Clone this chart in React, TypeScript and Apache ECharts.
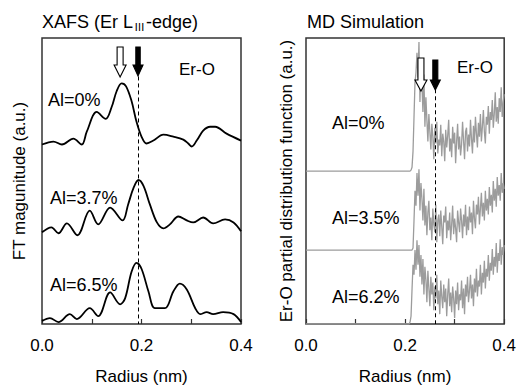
import React, { useEffect, useRef } from "react";
import * as echarts from "echarts";

// ---- XAFS Fourier-transform magnitudes (radius nm, a.u. incl. vertical offset) ----
const xafsAl0 = [
  [0.0, 182], [0.023, 185], [0.04, 182], [0.063, 188], [0.08, 182], [0.09, 195],
  [0.11, 215], [0.128, 208], [0.14, 220], [0.15, 236], [0.16, 244], [0.169, 241],
  [0.18, 226], [0.19, 205], [0.2, 190], [0.21, 183], [0.224, 186], [0.244, 192],
  [0.264, 190], [0.284, 187], [0.294, 183], [0.301, 180], [0.311, 186], [0.324, 196],
  [0.338, 200], [0.348, 200], [0.371, 193], [0.4, 186],
];
const xafsAl37 = [
  [0.0, 93], [0.019, 98], [0.033, 92], [0.05, 102], [0.071, 90], [0.096, 115],
  [0.113, 101], [0.137, 118], [0.162, 105], [0.173, 121], [0.184, 138], [0.194, 146],
  [0.204, 140], [0.217, 121], [0.231, 103], [0.244, 97], [0.257, 101], [0.274, 109],
  [0.291, 105], [0.304, 103], [0.324, 108], [0.344, 102], [0.368, 106], [0.385, 103],
  [0.4, 94],
];
const xafsAl65 = [
  [0.0, 3], [0.016, 6], [0.033, 2], [0.056, 10], [0.07, 5], [0.096, 16], [0.113, 8],
  [0.137, 32], [0.157, 20], [0.167, 26], [0.18, 53], [0.19, 62], [0.2, 56], [0.214, 33],
  [0.227, 16], [0.247, 16], [0.264, 33], [0.277, 41], [0.291, 35], [0.308, 16],
  [0.318, 10], [0.331, 12], [0.344, 10], [0.364, 12], [0.385, 10], [0.4, 2],
];
const xafsLabels = ["Al=0%", "Al=3.7%", "Al=6.5%"];

// ---- MD partial distribution functions (sampled every 0.002 nm from 0.208 nm) ----
const mdStart = 0.208;
const mdStep = 0.002;
const mdAl0 = [
  0, 0, 1, 4, 20, 55, 90, 100, 120, 95, 131,
  70, 112, 88, 60, 98, 45, 75, 52, 30, 58,
  40, 22, 48, 35, 12, 44, 28, 50, 18, 32,
  26, 47, 15, 38, 30, 10, 42, 24, 36, 52,
  20, 33, 14, 45, 28, 39, 8, 30, 48, 22,
  35, 16, 27, 50, 31, 12, 40, 44, 20, 37,
  25, 52, 33, 18, 46, 29, 55, 38, 24, 49,
  35, 58, 30, 45, 62, 40, 28, 55, 47, 66,
  38, 60, 52, 72, 44, 58, 80, 50, 65, 48,
  74, 60, 85, 55, 70, 78,
];
const mdAl35 = [
  0, 0, 0, 0, 2, 30, 60, 45, 78, 55, 82,
  40, 68, 52, 30, 62, 25, 45, 15, 38, 50,
  20, 33, 10, 42, 26, 18, 46, 8, 30, 36,
  14, 40, 24, 6, 35, 28, 44, 12, 30, 20,
  38, 10, 26, 45, 16, 32, 22, 8, 40, 28,
  18, 42, 30, 12, 36, 24, 46, 15, 34, 20,
  44, 28, 38, 16, 50, 32, 22, 46, 36, 54,
  26, 42, 58, 34, 48, 30, 60, 40, 52, 36,
  64, 45, 56, 38, 70, 50, 62, 44, 74, 55,
  66, 50, 78, 58, 68, 62,
];
const mdAl62 = [
  0, 2, 8, 35, 60, 50, 75, 55, 85, 60, 80,
  48, 70, 40, 66, 30, 58, 45, 22, 54, 36,
  18, 48, 30, 42, 14, 38, 26, 50, 20, 34,
  10, 44, 28, 16, 40, 22, 36, 8, 30, 46,
  18, 32, 12, 38, 26, 6, 34, 20, 42, 14,
  30, 24, 44, 16, 36, 10, 40, 28, 48, 22,
  34, 50, 26, 40, 18, 46, 32, 56, 28, 44,
  38, 60, 30, 52, 42, 64, 36, 56, 48, 70,
  44, 62, 54, 76, 50, 68, 58, 82, 52, 72,
  64, 86, 60, 78, 70, 80,
];
const mdOffsets = [155, 75, 0];
const mdLabels = ["Al=0%", "Al=3.5%", "Al=6.2%"];

// ---- peak markers (nm) ----
const xafsPeakR = 0.157;
const xafsBondR = 0.193;
const mdPeakR = 0.232;
const mdBondR = 0.261;

const xTicks = [0, 0.1, 0.2, 0.3, 0.4];

export default function App() {
  const ref = useRef<HTMLDivElement>(null);

  useEffect(() => {
    document.body.style.margin = "0";
    const chart = echarts.init(ref.current!, null, { renderer: "svg" });
    const font = "'Liberation Sans', Arial, Helvetica, sans-serif";

    const mdSeriesData = (vals: number[], off: number) => [
      [0, off],
      ...vals.map((d, i) => [+(mdStart + i * mdStep).toFixed(3), off + d]),
    ];

    const xAxisBase = (gridIndex: number) => ({
      type: "value",
      gridIndex,
      min: xTicks[0],
      max: xTicks[xTicks.length - 1],
      interval: 0.1,
      axisLine: { show: false },
      axisTick: { inside: true, length: 5, lineStyle: { color: "#333", width: 1.2 } },
      axisLabel: {
        fontSize: 17,
        fontFamily: font,
        color: "#000",
        margin: 13,
        formatter: (v: number) => (Math.round(v * 10) % 2 === 0 ? v.toFixed(1) : ""),
      },
      splitLine: { show: false },
      name: "Radius (nm)",
      nameLocation: "middle",
      nameGap: 44,
      nameTextStyle: { fontSize: 17, fontFamily: font, color: "#000" },
    });

    const yAxisBase = (gridIndex: number, name: string, gap: number) => ({
      type: "value",
      gridIndex,
      min: 0,
      max: 290,
      axisLine: { show: false },
      axisTick: { show: false },
      axisLabel: { show: false },
      splitLine: { show: false },
      name,
      nameLocation: "middle",
      nameRotate: 90,
      nameGap: gap,
      nameTextStyle: { fontSize: 17, fontFamily: font, color: "#000" },
    });

    const dashed = {
      silent: true,
      symbol: ["none", "none"],
      label: { show: false },
      lineStyle: { type: [4, 3], color: "#000", width: 1 },
    };

    const xafsLine = (data: number[][], extra: any = {}) => ({
      type: "line",
      xAxisIndex: 0,
      yAxisIndex: 0,
      data,
      smooth: 0.35,
      showSymbol: false,
      lineStyle: { color: "#000", width: 1.8 },
      ...extra,
    });
    const mdLine = (data: number[][], extra: any = {}) => ({
      type: "line",
      xAxisIndex: 1,
      yAxisIndex: 1,
      data,
      showSymbol: false,
      lineStyle: { color: "#9c9c9c", width: 1.3 },
      ...extra,
    });

    const text = (x: number, y: number, t: string, size: number, extra: any = {}) => ({
      type: "text",
      x,
      y,
      z: 20,
      style: {
        text: t,
        fontSize: size,
        fontFamily: font,
        fill: "#000",
        align: "left",
        verticalAlign: "middle",
        ...extra,
      },
    });

    chart.setOption({
      animation: false,
      grid: [
        { left: 42, top: 38, width: 199, height: 290, show: true, borderColor: "#333", borderWidth: 1.5 },
        { left: 306, top: 38, width: 199, height: 290, show: true, borderColor: "#333", borderWidth: 1.5 },
      ],
      xAxis: [xAxisBase(0), xAxisBase(1)],
      yAxis: [
        yAxisBase(0, "FT magunitude (a.u.)", 14),
        yAxisBase(1, "Er-O partial distribution function (a.u.)", 11),
      ],
      series: [
        xafsLine(xafsAl0, {
          markLine: { ...dashed, data: [[{ coord: [xafsBondR, 251] }, { coord: [xafsBondR, 0] }]] },
        }),
        xafsLine(xafsAl37),
        xafsLine(xafsAl65),
        mdLine(mdSeriesData(mdAl0, mdOffsets[0])),
        mdLine(mdSeriesData(mdAl35, mdOffsets[1])),
        mdLine(mdSeriesData(mdAl62, mdOffsets[2]), {
          markLine: { ...dashed, data: [[{ coord: [mdBondR, 238] }, { coord: [mdBondR, 0] }]] },
        }),
      ],
    });

    const px = (g: number, r: number) => (chart.convertToPixel({ gridIndex: g }, [r, 0]) as number[])[0];
    const arrow = (x: number, y0: number, y1: number, y2: number, sw: number, hw: number, filled: boolean) => ({
      type: "polygon",
      z: 20,
      shape: {
        points: [
          [x - sw, y0], [x + sw, y0], [x + sw, y1], [x + hw, y1],
          [x, y2], [x - hw, y1], [x - sw, y1],
        ],
      },
      style: { fill: filled ? "#000" : "#fff", stroke: "#000", lineWidth: 1.1 },
    });

    chart.setOption({
      graphic: [
        {
          type: "text",
          x: 42,
          y: 22,
          z: 20,
          style: {
            text: "XAFS (Er L{s|Ⅲ}-edge)",
            fontSize: 18,
            fontFamily: font,
            fill: "#000",
            align: "left",
            verticalAlign: "middle",
            rich: { s: { fontSize: 11, fontFamily: "'Noto Sans CJK JP', sans-serif", padding: [7, 1, 0, 1] } },
          },
        },
        text(307, 22, "MD Simulation", 18),
        text(48, 100, xafsLabels[0], 18),
        text(50, 198, xafsLabels[1], 18),
        text(50, 285, xafsLabels[2], 18),
        text(179, 69, "Er-O", 17),
        text(332, 123, mdLabels[0], 18),
        text(332, 218, mdLabels[1], 18),
        text(332, 297, mdLabels[2], 18),
        text(457, 67, "Er-O", 17),
        arrow(px(0, xafsPeakR), 47, 65, 77, 3, 6, false),
        arrow(px(0, xafsBondR), 47, 65, 76, 2.2, 5, true),
        arrow(px(1, mdPeakR), 58, 80, 91, 3, 6, false),
        arrow(px(1, mdBondR), 60, 80, 90, 2.5, 5, true),
      ],
    });

    return () => chart.dispose();
  }, []);

  return <div ref={ref} style={{ width: 519, height: 390 }} />;
}
